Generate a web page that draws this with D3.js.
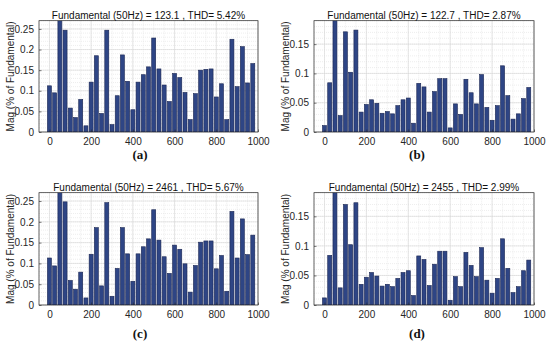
<!DOCTYPE html>
<html><head><meta charset="utf-8">
<script src="https://cdn.jsdelivr.net/npm/d3@7"></script>
<style>
html,body{margin:0;padding:0;background:#fff;}
svg{display:block;}
</style></head>
<body>
<svg id="chart" width="550" height="343"></svg>
<script>
// ---- data ----
const freqs = [0,25,50,75,100,125,150,175,200,225,250,275,300,325,350,375,400,425,450,475,
               500,525,550,575,600,625,650,675,700,725,750,775,800,825,850,875,900,925,950,975];
const magA = [0.112,0.095,100,0.247,0.058,0.035,0.079,0.015,0.121,0.185,0.045,0.247,0.018,0.088,0.187,0.123,0.054,0.121,0.139,0.158,
              0.228,0.153,0.114,0.074,0.142,0.132,0.096,0.030,0.093,0.150,0.152,0.153,0.085,0.117,0.030,0.225,0.110,0.207,0.119,0.166];
const magB = [0.011,0.084,100,0.028,0.171,0.102,0.174,0.034,0.047,0.055,0.049,0.032,0.035,0.031,0.045,0.055,0.058,0.015,0.083,0.077,
              0.034,0.069,0.091,0.091,0.007,0.048,0.030,0.090,0.067,0.048,0.098,0.042,0.020,0.045,0.113,0.062,0.022,0.031,0.057,0.076];
const magC = [0.113,0.094,100,0.248,0.059,0.038,0.079,0.017,0.122,0.186,0.046,0.246,0.021,0.088,0.186,0.123,0.057,0.123,0.140,0.159,
              0.229,0.156,0.116,0.076,0.144,0.134,0.099,0.031,0.095,0.151,0.154,0.154,0.087,0.119,0.033,0.225,0.113,0.207,0.121,0.168];
const magD = [0.012,0.084,100,0.029,0.170,0.102,0.173,0.035,0.047,0.055,0.049,0.032,0.035,0.031,0.045,0.055,0.058,0.016,0.083,0.077,
              0.033,0.069,0.091,0.091,0.008,0.048,0.031,0.089,0.067,0.048,0.097,0.042,0.020,0.045,0.112,0.062,0.021,0.031,0.058,0.076];
const titles = ["Fundamental (50Hz) = 123.1 , THD= 5.42%","Fundamental (50Hz) = 122.7 , THD= 2.87%",
                "Fundamental (50Hz) = 2461 , THD= 5.67%","Fundamental (50Hz) = 2455 , THD= 2.99%"];
const panelLabels = ["(a)","(b)","(c)","(d)"];
const yMax = [0.27,0.19,0.27,0.19];
const yTicksA = [0,0.05,0.1,0.15,0.2,0.25];
const yTicksB = [0,0.05,0.1,0.15];
const xTicks = [0,200,400,600,800,1000];
const yLabel = "Mag (% of Fundamental)";

// ---- layout ----
const series = [magA,magB,magC,magD];
const yTickSets = [yTicksA,yTicksB,yTicksA,yTicksB];
const boxes = [
  {l:39,r:258,t:20.7,b:132, lx:140, ly:159},
  {l:314,r:534,t:20.7,b:132, lx:417, ly:159},
  {l:39,r:258,t:192.7,b:305, lx:140, ly:338},
  {l:314,r:534,t:192.7,b:305, lx:417, ly:338}
];
const svg = d3.select("#chart");
const font = "Liberation Sans, Arial, Helvetica, sans-serif";
const axisCol = "#262626";

boxes.forEach((bx,i)=>{
  const x = d3.scaleLinear().domain([-50,1000]).range([bx.l,bx.r]);
  const y = d3.scaleLinear().domain([0,yMax[i]]).range([bx.b,bx.t]);
  const g = svg.append("g");
  const cid = "clip"+i;
  svg.append("clipPath").attr("id",cid).append("rect")
    .attr("x",bx.l).attr("y",bx.t).attr("width",bx.r-bx.l).attr("height",bx.b-bx.t);

  g.append("rect").attr("x",bx.l).attr("y",bx.t).attr("width",bx.r-bx.l).attr("height",bx.b-bx.t).attr("fill","#fff");

  // minor grid
  const xMinor = d3.range(-50,1001,50);
  const yMinor = d3.range(0,yMax[i]+1e-9,0.01);
  g.append("g").selectAll("line").data(xMinor).join("line")
    .attr("x1",d=>x(d)).attr("x2",d=>x(d)).attr("y1",bx.t).attr("y2",bx.b)
    .attr("stroke","#e2e2e2").attr("stroke-width",0.6).attr("stroke-dasharray","1,1");
  g.append("g").selectAll("line").data(yMinor).join("line")
    .attr("y1",d=>y(d)).attr("y2",d=>y(d)).attr("x1",bx.l).attr("x2",bx.r)
    .attr("stroke","#e2e2e2").attr("stroke-width",0.6).attr("stroke-dasharray","1,1");
  // major grid
  g.append("g").selectAll("line").data(xTicks).join("line")
    .attr("x1",d=>x(d)).attr("x2",d=>x(d)).attr("y1",bx.t).attr("y2",bx.b)
    .attr("stroke","#d6d6d6").attr("stroke-width",0.6);
  g.append("g").selectAll("line").data(yTickSets[i]).join("line")
    .attr("y1",d=>y(d)).attr("y2",d=>y(d)).attr("x1",bx.l).attr("x2",bx.r)
    .attr("stroke","#d6d6d6").attr("stroke-width",0.6);

  // bars
  const bw = 4;
  g.append("g").attr("clip-path",`url(#${cid})`).selectAll("rect")
    .data(freqs.map((f,k)=>({f, v:series[i][k]}))).join("rect")
    .attr("x",d=>x(d.f)-bw/2).attr("width",bw)
    .attr("y",d=>y(d.v)).attr("height",d=>y(0)-y(d.v))
    .attr("fill","#2e4585").attr("stroke","#1b2652").attr("stroke-width",0.6);

  // axes
  const xAx = d3.axisBottom(x).tickValues(xTicks).tickSizeInner(-2.5).tickSizeOuter(0).tickPadding(6).tickFormat(d3.format("d"));
  const gx = g.append("g").attr("transform",`translate(0,${bx.b})`).call(xAx);
  const yAx = d3.axisLeft(y).tickValues(yTickSets[i]).tickSizeInner(-2.5).tickSizeOuter(0).tickPadding(5).tickFormat(d=>d===0?"0":d3.format("")(+d.toFixed(2)));
  const gy = g.append("g").attr("transform",`translate(${bx.l},0)`).call(yAx);
  [gx,gy].forEach(a=>{
    a.select(".domain").remove();
    a.selectAll("line").attr("stroke",axisCol).attr("stroke-width",0.6);
    a.selectAll("text").attr("fill",axisCol).style("font-family",font).style("font-size","10px");
  });
  g.append("rect").attr("x",bx.l).attr("y",bx.t).attr("width",bx.r-bx.l).attr("height",bx.b-bx.t)
    .attr("fill","none").attr("stroke",axisCol).attr("stroke-width",0.7);

  g.append("text").attr("x",(bx.l+bx.r)/2).attr("y",bx.t-2).attr("text-anchor","middle")
    .style("font-family",font).style("font-size","10px").attr("fill","#111").text(titles[i]);
  g.append("text").attr("transform",`translate(${bx.l-25},${(bx.t+bx.b)/2}) rotate(-90)`)
    .attr("text-anchor","middle").style("font-family",font).style("font-size","10px")
    .attr("fill",axisCol).text(yLabel);
  g.append("text").attr("x",bx.lx).attr("y",bx.ly).attr("text-anchor","middle")
    .style("font-family","Liberation Serif, Times New Roman, serif").style("font-size","13px")
    .style("font-weight","bold").attr("fill","#111").text(panelLabels[i]);
});
</script>
</body></html>
